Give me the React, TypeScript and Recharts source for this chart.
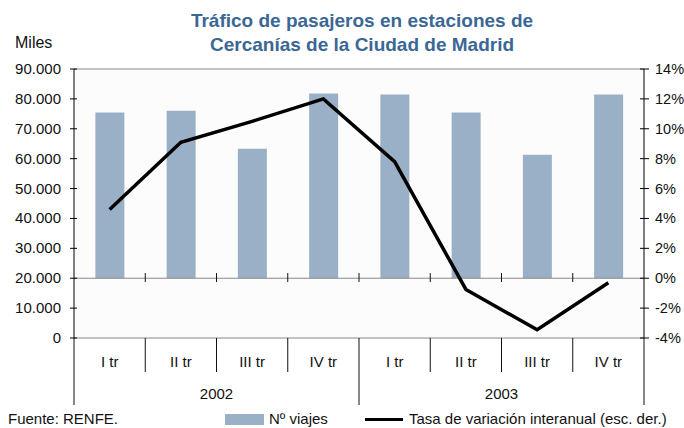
import {
  ComposedChart,
  Bar,
  Line,
  XAxis,
  YAxis,
  CartesianGrid,
  ReferenceLine,
  Legend,
} from "recharts";

const quarters = ["I tr", "II tr", "III tr", "IV tr", "I tr", "II tr", "III tr", "IV tr"];
const years = ["2002", "2003"];
const viajes = [75450, 76000, 63300, 81800, 81500, 75450, 61300, 81500];
const tasa = [4.6, 9.1, 10.5, 12.0, 7.8, -0.75, -3.45, -0.3];
const leftTicks = [0, 10000, 20000, 30000, 40000, 50000, 60000, 70000, 80000, 90000];
const rightTicks = [-4, -2, 0, 2, 4, 6, 8, 10, 12, 14];
const BAR_BASE = 20000;

const data = quarters.map((q, i) => ({
  q,
  viajes: [BAR_BASE, viajes[i]],
  tasa: tasa[i],
}));

const FONT = '"Liberation Sans", Arial, Helvetica, sans-serif';
const TITLE_BLUE = "#3A6795";
const BAR_BLUE = "#9AB0C7";

const fmtMiles = (v: number) => String(v).replace(/\B(?=(\d{3})+(?!\d))/g, ".");

function LeftTick({ x, y, payload }: any) {
  return (
    <g>
      <line x1={x - 4} x2={x + 3} y1={y} y2={y} stroke="#000" />
      <text x={x - 13} y={y + 5} textAnchor="end" fontSize={15} fill="#111" fontFamily={FONT}>
        {fmtMiles(payload.value)}
      </text>
    </g>
  );
}

function RightTick({ x, y, payload }: any) {
  return (
    <g>
      <line x1={x - 4} x2={x + 5} y1={y} y2={y} stroke="#000" />
      <text x={x + 11} y={y + 5} textAnchor="start" fontSize={14.5} fill="#111" fontFamily={FONT}>
        {payload.value}%
      </text>
    </g>
  );
}

function QuarterTick({ x, y, payload, index }: any) {
  const half = payload.offset || 570 / 16;
  const left = x - half;
  const right = x + half;
  const yearEnd = index % 4 === 3;
  return (
    <g>
      <text x={x} y={y + 29} textAnchor="middle" fontSize={15} fill="#111" fontFamily={FONT}>
        {payload.value}
      </text>
      {index === 0 && <line x1={left} x2={left} y1={y} y2={y + 67} stroke="#111" />}
      <line x1={right} x2={right} y1={y} y2={yearEnd ? y + 67 : y + 34} stroke="#111" />
      {index < quarters.length - 1 && (
        <line x1={right} x2={right} y1={y - 65} y2={y - 56} stroke="#111" />
      )}
      {index % 4 === 1 && (
        <text x={right} y={y + 61} textAnchor="middle" fontSize={15} fill="#111" fontFamily={FONT}>
          {years[Math.floor(index / 4)]}
        </text>
      )}
    </g>
  );
}

function LegendRow() {
  const txt = { position: "absolute" as const, top: 0, fontSize: 15, lineHeight: "19px", color: "#111", fontFamily: FONT, whiteSpace: "nowrap" as const };
  return (
    <div style={{ position: "relative", width: 684, height: 19 }}>
      <span style={{ ...txt, left: 8 }}>Fuente: RENFE.</span>
      <span style={{ position: "absolute", left: 225, top: 5, width: 39, height: 11, background: BAR_BLUE }} />
      <span style={{ ...txt, left: 269 }}>Nº viajes</span>
      <span style={{ position: "absolute", left: 365, top: 9, width: 38, height: 3, background: "#000" }} />
      <span style={{ ...txt, left: 409 }}>Tasa de variación interanual (esc. der.)</span>
    </div>
  );
}

export default function App() {
  return (
    <div style={{ position: "absolute", left: 0, top: 0, width: 684, height: 428, background: "#fff", fontFamily: FONT }}>
      <div
        style={{
          position: "absolute",
          left: 152,
          top: 9,
          width: 420,
          textAlign: "center",
          fontSize: 19,
          fontWeight: "bold",
          lineHeight: "24px",
          color: TITLE_BLUE,
        }}
      >
        Tráfico de pasajeros en estaciones de
        <br />
        Cercanías de la Ciudad de Madrid
      </div>
      <div style={{ position: "absolute", left: 15, top: 33, fontSize: 16, lineHeight: "20px", color: "#111" }}>
        Miles
      </div>
      <ComposedChart
        width={684}
        height={428}
        data={data}
        margin={{ top: 69, right: 0, bottom: 0, left: 0 }}
        barCategoryGap="30%"
      >
        <CartesianGrid horizontal={false} vertical={false} fill="#fcfcfc" yAxisId="left" />
        <XAxis
          dataKey="q"
          height={90}
          interval={0}
          tickSize={0}
          tickMargin={0}
          tickLine={false}
          axisLine={{ stroke: "#888" }}
          tick={<QuarterTick />}
        />
        <YAxis
          yAxisId="left"
          orientation="left"
          width={74}
          domain={[0, 90000]}
          ticks={leftTicks}
          tickSize={0}
          tickMargin={0}
          tickLine={false}
          axisLine={{ stroke: "#000" }}
          tick={<LeftTick />}
          interval={0}
        />
        <YAxis
          yAxisId="right"
          orientation="right"
          width={40}
          domain={[-4, 14]}
          ticks={rightTicks}
          tickSize={0}
          tickMargin={0}
          tickLine={false}
          axisLine={{ stroke: "#000" }}
          tick={<RightTick />}
          interval={0}
        />
        <ReferenceLine yAxisId="left" y={90000} stroke="#888" />
        <ReferenceLine yAxisId="left" y={BAR_BASE} stroke="#888" />
        <Bar yAxisId="left" dataKey="viajes" fill={BAR_BLUE} isAnimationActive={false} />
        <Line
          yAxisId="right"
          type="linear"
          dataKey="tasa"
          stroke="#000"
          strokeWidth={3.5}
          dot={false}
          activeDot={false}
          isAnimationActive={false}
        />
        <Legend
          layout="horizontal"
          verticalAlign="middle"
          align="center"
          wrapperStyle={{ top: 409, left: 0, width: 684, height: 19 }}
          content={() => <LegendRow />}
        />
      </ComposedChart>
    </div>
  );
}
